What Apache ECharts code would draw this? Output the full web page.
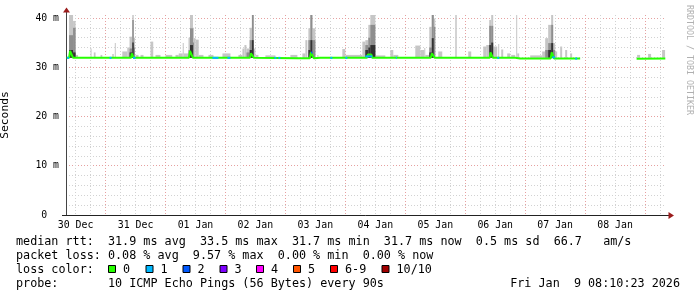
<!DOCTYPE html>
<html><head><meta charset="utf-8">
<script src="https://cdn.jsdelivr.net/npm/echarts@6.0.0/dist/echarts.min.js"></script>
<style>html,body{margin:0;padding:0;background:#fff}#c{width:697px;height:297px}</style>
</head><body><div id="c"></div>
<script>
// ---- time axis: hours since 30 Dec 00:00 ----
const xStartHour = 8.17;
const xEndHour = 248.17;
const dayLabels = ['30 Dec','31 Dec','01 Jan','02 Jan','03 Jan','04 Jan','05 Jan','06 Jan','07 Jan','08 Jan'];
const dayLabelHours = [12,36,60,84,108,132,156,180,204,228];
const majorXGrid = [24,48,72,96,120,144,168,192,216,240];
const minorXGrid = [12,18,30,36,42,54,60,66,78,84,90,102,108,114,126,132,138,150,156,162,174,180,186,198,204,210,222,228,234,246];

// ---- value axis (ms) ----
const yMax = 40.6;
const yMajorTicks = [0,10,20,30,40];
const yTickLabels = ['0  ','10 m','20 m','30 m','40 m'];
const yMinorTicks = [2,4,6,8,12,14,16,18,22,24,26,28,32,34,36,38];

// ---- smoke columns: from/to hour, top of light / mid / dark bands (ms) ----
const smokeFloor = 31.9;
const smokeFrom = [9.4,11.0,12.0,18.0,19.3,22.0,26.7,27.7,30.7,32.7,33.6,34.7,35.3,36.0,38.0,42.0,44.0,48.0,52.0,53.3,54.9,55.3,57.2,57.8,59.0,59.4,60.0,61.3,65.2,70.8,77.2,78.8,79.6,80.4,81.7,82.6,83.3,84.0,88.0,98.0,102.8,104.0,105.2,106.0,106.8,108.8,118.8,120.0,126.8,128.0,129.2,130.0,132.0,138.0,139.2,148.0,150.0,151.6,152.0,153.6,154.6,155.4,157.2,164.0,169.2,175.2,176.4,177.6,178.4,179.2,181.2,182.4,184.8,186.4,188.4,188.8,194.0,198.8,200.0,201.2,202.4,203.2,204.0,206.0,208.0,210.0,236.8,241.2,246.8];
const smokeTo   = [11.0,12.0,13.0,18.4,20.0,22.7,27.3,28.1,32.7,33.6,34.7,35.3,35.8,37.2,39.2,43.1,46.0,50.7,53.3,54.9,55.3,57.2,57.8,59.0,59.4,60.0,61.3,63.2,67.2,74.0,78.8,79.6,80.4,81.7,82.6,83.3,84.0,85.2,92.0,100.8,104.0,104.8,106.0,106.8,108.0,109.2,120.0,126.8,128.0,129.2,130.0,132.0,136.0,139.2,141.2,150.0,151.6,152.0,153.6,154.6,155.4,156.0,158.8,164.6,170.4,176.4,177.6,178.4,179.2,180.8,181.6,183.2,186.0,188.0,188.8,189.6,198.8,200.0,201.2,202.4,203.2,204.0,204.8,206.8,208.8,210.8,238.0,242.4,248.0];
const smokeLight = [40.6,39.4,32.5,33.8,33.0,32.5,32.7,34.9,33.2,34.0,36.2,40.6,36.0,32.5,32.5,35.2,32.5,32.5,32.5,32.8,34.9,32.8,36.0,40.6,38.0,35.9,35.6,32.5,32.5,32.8,32.5,33.8,34.5,33.8,38.0,40.6,33.8,32.5,32.4,32.5,32.8,35.5,37.9,40.6,37.9,32.5,33.7,32.5,35.2,35.5,38.6,40.6,32.4,33.5,32.5,34.4,33.5,33.9,32.5,38.2,40.6,39.9,33.2,40.6,33.2,34.2,34.5,39.6,40.6,34.2,34.7,33.6,32.8,32.5,40.6,32.8,32.4,33.2,35.9,38.6,40.6,34.9,33.2,34.2,33.5,32.8,32.5,32.7,33.5];
const smokeMid = [36.5,38.0,null,null,null,null,null,null,null,null,33.8,39.6,34.0,null,null,null,null,null,null,null,null,null,33.5,37.9,35.0,null,null,null,null,null,null,null,null,33.0,35.5,40.6,null,null,null,null,null,null,35.5,40.6,35.5,null,null,null,null,34.5,36.0,38.6,null,null,null,null,null,null,null,34.0,40.6,38.2,null,null,null,null,null,38.4,38.4,null,null,null,null,null,null,null,null,null,33.5,34.9,38.6,33.5,null,null,null,null,null,null,null];
const smokeDark = [33.5,33.0,null,null,null,null,null,null,null,null,33.0,35.0,null,null,null,null,null,null,null,null,null,null,null,34.5,null,null,null,null,null,null,null,null,null,null,33.5,35.5,null,null,null,null,null,null,33.5,35.5,null,null,null,null,null,33.5,34.0,34.5,null,null,null,null,null,null,null,33.0,35.9,null,null,null,null,null,null,34.5,35.0,null,null,null,null,null,null,null,null,null,null,33.5,34.9,null,null,null,null,null,null,null,null];

// ---- median rtt (hour, ms); null = no data ----
const medianHours  = [8.4,9.4,9.8,10.6,11.0,34.2,34.5,35.0,35.3,57.4,57.8,58.6,59.0,81.8,82.2,83.0,83.4,100.8,105.8,106.2,107.0,107.4,110.0,128.6,129.0,130.4,130.8,154.2,154.6,155.4,155.8,177.8,178.1,178.8,179.1,188.0,190.0,202.2,202.6,203.2,203.6,214.0,225.0,236.6,248.1];
const medianValues = [31.9,31.9,33.3,33.3,31.9,31.9,32.8,32.8,31.9,31.9,33.3,33.3,31.9,31.9,32.8,32.8,31.9,31.8,31.8,33.0,33.0,31.8,31.9,31.9,32.6,32.6,31.9,31.9,32.8,32.8,31.9,31.9,33.0,33.0,31.9,31.9,31.75,31.75,33.0,33.0,31.75,31.75,null,31.7,31.75];

// ---- median segments drawn with loss colours ----
const loss1From  = [8.6,25.6,35.0,66.8,72.8,91.6,93.2,114.0,120.0,128.0,140.2,180.8,202.8,212.0];
const loss1To    = [9.4,26.4,36.0,69.2,74.0,92.4,94.0,114.8,120.8,130.8,140.6,181.6,204.0,212.8];
const loss1Value = [31.9,31.9,31.9,31.9,31.9,31.9,31.9,31.9,31.9,32.2,31.9,31.9,32.0,31.75];
const loss2From  = [106.3];
const loss2To    = [106.8];
const loss2Value = [33.0];

// ---- legend ----
const lossLabels = ['0','1','2','3','4','5','6-9','10/10'];
const lossColors = ['#26ff00','#00b8ff','#0059ff','#7e00ff','#ff00ff','#ff5500','#ff0000','#a10000'];
const statLine1 = 'median rtt:  31.9 ms avg  33.5 ms max  31.7 ms min  31.7 ms now  0.5 ms sd  66.7   am/s';
const statLine2 = 'packet loss: 0.08 % avg  9.57 % max  0.00 % min  0.00 % now';
const lossTitle = 'loss color:';
const probeLine = 'probe:       10 ICMP Echo Pings (56 Bytes) every 90s';
const dateText  = 'Fri Jan  9 08:10:23 2026';
const sideText  = 'RRDTOOL / TOBI OETIKER';

// ---------------------------------------------------------------
const MONO = '"DejaVu Sans Mono", monospace';
function bandData(tops, bottoms) {
  const out = [];
  for (let i = 0; i < smokeFrom.length; i++) {
    if (tops[i] == null) continue;
    out.push([smokeFrom[i], smokeTo[i], bottoms, tops[i]]);
  }
  return out;
}
function rectRender(fill) {
  return function (params, api) {
    const a = api.coord([api.value(0), api.value(3)]);
    const b = api.coord([api.value(1), api.value(2)]);
    return { type: 'rect', shape: { x: a[0], y: a[1], width: Math.max(1, b[0] - a[0]), height: b[1] - a[1] }, style: { fill: fill } };
  };
}
function segRender(fill) {
  return function (params, api) {
    const a = api.coord([api.value(0), api.value(2)]);
    const b = api.coord([api.value(1), api.value(2)]);
    return { type: 'rect', shape: { x: a[0], y: a[1] - 1, width: Math.max(1, b[0] - a[0]), height: 2 }, style: { fill: fill } };
  };
}
function segData(f, t, v) { return f.map((x, i) => [x, t[i], v[i]]); }

const chart = echarts.init(document.getElementById('c'), null, { renderer: 'canvas' });
const minorGrid = { show: true, lineStyle: { color: '#d2d2d2', width: 1, type: [1, 2] } };
const majorGrid = { show: true, lineStyle: { color: '#e6a0a0', width: 1, type: [1, 2] } };

const graphic = [];
const lines = [statLine1, statLine2, lossTitle, probeLine];
const lineY = [241.5, 255.5, 269.5, 283.5];
lines.forEach((s, i) => graphic.push({ type: 'text', x: 16, y: lineY[i], style: { text: s, font: '11.75px ' + MONO, fill: '#000', verticalAlign: 'middle', textVerticalAlign: 'middle' } }));
graphic.push({ type: 'text', x: 680, y: 283.5, style: { text: dateText, font: '11.75px ' + MONO, fill: '#000', align: 'right', textAlign: 'right', verticalAlign: 'middle', textVerticalAlign: 'middle' } });
const boxX = [108, 145.5, 182.5, 219.5, 256, 293, 330, 381.5];
lossLabels.forEach((lab, i) => {
  graphic.push({ type: 'rect', shape: { x: boxX[i] + 0.5, y: 265.5, width: 7, height: 7 }, style: { fill: lossColors[i], stroke: '#000', lineWidth: 1 } });
  graphic.push({ type: 'text', x: boxX[i] + 15, y: 269.5, style: { text: lab, font: '11.75px ' + MONO, fill: '#000', verticalAlign: 'middle', textVerticalAlign: 'middle' } });
});
graphic.push({ type: 'text', x: 689, y: 5, rotation: -Math.PI / 2, style: { text: sideText, font: '8.3px ' + MONO, fill: '#b0b0b0', verticalAlign: 'middle', textVerticalAlign: 'middle' } });
// axis extensions + arrows
graphic.push({ type: 'line', shape: { x1: 66.5, y1: 15, x2: 66.5, y2: 12 }, style: { stroke: '#444', lineWidth: 1 } });
graphic.push({ type: 'line', shape: { x1: 62, y1: 215.5, x2: 67, y2: 215.5 }, style: { stroke: '#222', lineWidth: 1 } });
graphic.push({ type: 'line', shape: { x1: 665, y1: 215.5, x2: 669, y2: 215.5 }, style: { stroke: '#222', lineWidth: 1 } });
graphic.push({ type: 'polygon', shape: { points: [[63, 12.5], [70, 12.5], [66.5, 7.5]] }, style: { fill: '#9b1c1c' } });
graphic.push({ type: 'polygon', shape: { points: [[668.5, 212], [668.5, 219], [674, 215.5]] }, style: { fill: '#9b1c1c' } });

const option = {
  animation: false,
  backgroundColor: '#fff',
  grid: { left: 66, right: 31.5, top: 15, bottom: 82, containLabel: false, outerBoundsMode: 'none' },
  xAxis: [
    {
      type: 'value', min: xStartHour, max: xEndHour,
      axisLine: { show: true, onZero: false, lineStyle: { color: '#222', width: 1 } },
      axisTick: { show: false, customValues: minorXGrid },
      splitLine: minorGrid,
      axisLabel: {
        show: true, customValues: dayLabelHours, margin: 5, hideOverlap: false,
        color: '#000', fontFamily: MONO, fontSize: 9.9,
        formatter: v => { const i = dayLabelHours.indexOf(v); return i >= 0 ? dayLabels[i] : ''; }
      }
    },
    {
      type: 'value', min: xStartHour, max: xEndHour, position: 'bottom',
      axisLine: { show: false }, axisLabel: { show: false },
      axisTick: { show: false, customValues: majorXGrid },
      splitLine: majorGrid
    }
  ],
  yAxis: [
    {
      type: 'value', min: 0, max: yMax, position: 'left',
      name: 'Seconds', nameLocation: 'middle', nameGap: 55, nameRotate: 90,
      nameTextStyle: { fontFamily: MONO, fontSize: 11.3, color: '#000' },
      axisLine: { show: true, lineStyle: { color: '#444', width: 1 } },
      axisTick: { show: false, customValues: yMinorTicks },
      splitLine: minorGrid,
      axisLabel: {
        show: true, customValues: yMajorTicks, margin: 7,
        color: '#000', fontFamily: MONO, fontSize: 9.8,
        formatter: v => { const i = yMajorTicks.indexOf(v); return i >= 0 ? yTickLabels[i] : ''; }
      }
    },
    {
      type: 'value', min: 0, max: yMax, position: 'left', offset: 0,
      axisLine: { show: false }, axisLabel: { show: false },
      axisTick: { show: false, customValues: yMajorTicks.slice(1) },
      splitLine: majorGrid
    }
  ],
  series: [
    { type: 'custom', name: 'smoke light', renderItem: rectRender('#c6c6c6'), data: bandData(smokeLight, smokeFloor), encode: { x: [0, 1], y: [2, 3] }, z: 3 },
    { type: 'custom', name: 'smoke mid', renderItem: rectRender('#8e8e8e'), data: bandData(smokeMid, smokeFloor), encode: { x: [0, 1], y: [2, 3] }, z: 4 },
    { type: 'custom', name: 'smoke dark', renderItem: rectRender('#333333'), data: bandData(smokeDark, smokeFloor), encode: { x: [0, 1], y: [2, 3] }, z: 5 },
    {
      type: 'line', name: 'median', data: medianHours.map((h, i) => [h, medianValues[i]]),
      showSymbol: false, symbol: 'none', connectNulls: false,
      lineStyle: { color: lossColors[0], width: 2 }, itemStyle: { color: lossColors[0] }, z: 6
    },
    { type: 'custom', name: 'loss 1', renderItem: segRender(lossColors[1]), data: segData(loss1From, loss1To, loss1Value), encode: { x: [0, 1], y: 2 }, z: 7 },
    { type: 'custom', name: 'loss 2', renderItem: segRender(lossColors[2]), data: segData(loss2From, loss2To, loss2Value), encode: { x: [0, 1], y: 2 }, z: 7 }
  ],
  graphic: graphic
};
chart.setOption(option);
</script>
</body></html>
